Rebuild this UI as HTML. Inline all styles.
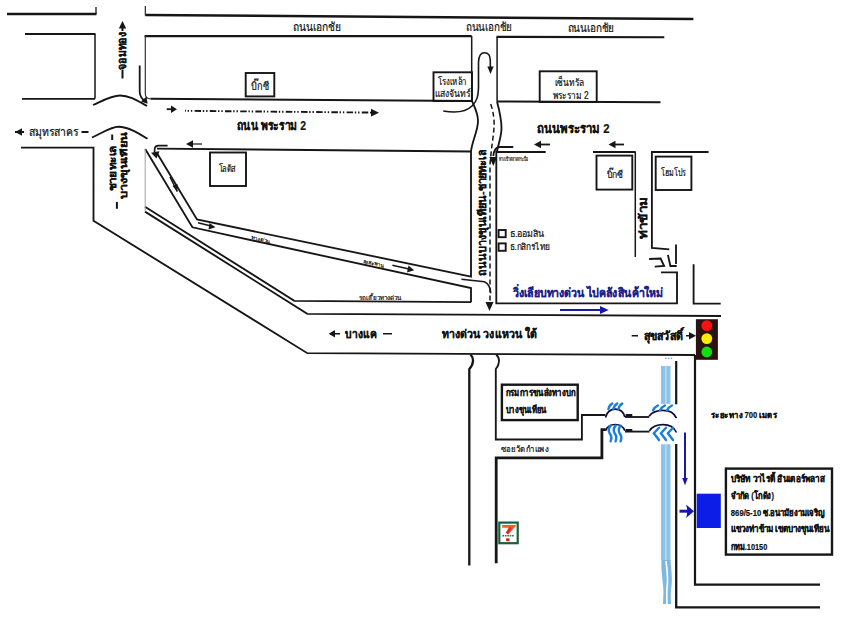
<!DOCTYPE html>
<html>
<head>
<meta charset="utf-8">
<title>map</title>
<style>
html,body{margin:0;padding:0;background:#fff;width:861px;height:630px;overflow:hidden;}
svg{display:block;position:absolute;left:0;top:0;}
text{font-family:"Liberation Sans",sans-serif;}
</style>
</head>
<body>
<svg width="861" height="630" viewBox="0 0 861 630">
<rect x="0" y="0" width="861" height="630" fill="#fff"/>
<g fill="none" stroke="#161616" stroke-width="1.85" stroke-linejoin="miter" stroke-linecap="butt">
  <path d="M7,14 H96.5" stroke-width="2.4"/>
  <path d="M96,14 V7" stroke-width="1.3"/>
  <path d="M145.3,15 L693.4,19" stroke-width="2.5"/>
  <path d="M145.3,15.5 V6" stroke-width="1.1"/>
  <path d="M25,34 H95.5 M95,98.8 H22" stroke-width="1.8"/>
  <path d="M95,34 V98.8" stroke-width="1.5"/>
  <path d="M144.6,36.1 H471.7" stroke-width="2.1"/>
  <path d="M145.3,36.1 V93.5 Q145.3,98.8 150.5,98.8" stroke-width="1.2" stroke="#333"/>
  <path d="M150.5,98.8 L472,101" stroke-width="2"/>
  <path d="M471.7,36.1 V101" stroke-width="1.5"/>
  <path d="M664.3,37.2 L496.5,36.9" stroke-width="2.1"/>
  <path d="M497.1,36.9 V101.5" stroke-width="1.5"/>
  <path d="M497.1,101.5 L660.5,102.2" stroke-width="2"/>
  <path d="M472,101 C474,106 478,113 478,121 C478,131 472,141 471,151.5"/>
  <path d="M497,101.5 C499,109 501.5,120 501.5,128 C501.5,137 498,145 497,151.5"/>
  <path d="M93,105 C104,100 112,95.5 120,95.5 C130,95.5 138,101 147,106"/>
  <path d="M92,137.5 C104,132 111,126.7 118.5,126.7 C128,126.7 138,133 147.5,138.8"/>
  <path d="M21,147.6 H93.5 V220.7 L307.3,353.2 L695,355"/>
  <path d="M145.2,149 L192.4,227.3 L471,288.1 V302.2"/>
  <path d="M156.3,152 L197,219.5 L471,276.6 V151.5 L157,148.6"/>
  <path d="M145,206.8 L294.3,300.8 L471,302.2"/>
  <path d="M145,211.6 L307.3,313.8 L721,316"/>
  <path d="M545.7,152 H496.3 V303.4 H677 V272.4 H661"/>
  <path d="M593,152 H635.7"/><path d="M635.3,152 V257" stroke-width="1.5"/>
  <path d="M708.6,152 H651.9 V247.9 L669.3,249.3"/>
  <path d="M667.9,254.9 L670.4,266 H676.7"/>
  <path d="M676,244.4 V264"/>
  <path d="M649.1,259 L660.6,258.5 L664.1,266 L654.7,266.7"/>
  <path d="M693.6,264.3 V303.6 H720.7"/>
  <path d="M695,355 V584.7 H820" stroke-width="2.2"/>
  <path d="M676.2,361 V404.3" stroke-width="2.2"/>
  <path d="M676.2,444 V607.3 H820" stroke-width="2.3"/>
  <path d="M470.5,354.5 C474,358 474,364 469.3,369 V565.4" stroke-width="2.3"/>
  <path d="M496.2,354.5 C500,358 500,364 495.8,369 V439.5 H581.9 V415 H605.5"/>
  <path d="M496.2,563.3 V457.8 H601.9 V429.7 H605.5" stroke-width="2.8"/>
  <path d="M625,417 H649.1"/>
  <path d="M625,431.6 H649.5"/>
</g>
<path d="M145.2,149 V211.6" stroke="#a0a0a0" stroke-width="1" fill="none"/>
<g fill="none" stroke="#0c0c3a" stroke-width="1.7">
  <path d="M605.5,417.4 C607,412 610.5,409.2 615.2,409.2 C620,409.2 623.5,412 624.9,417"/>
  <path d="M649.1,416.2 C652,412 657,410.3 663,410.3 C669.5,410.3 674.5,413.5 676.5,418.2"/>
  <path d="M605.5,430.8 C607,426.5 610.5,424.5 615.2,424.5 C620,424.5 623.5,427 624.9,430.8"/>
  <path d="M649.5,430.9 C652,426.5 657,424.6 663,424.6 C669.5,424.6 674.5,428 676.5,432.5"/>
</g>
<g fill="#161616">
  <rect x="625.6" y="414" width="6.7" height="3"/>
  <rect x="625.6" y="429" width="6.7" height="3"/>
</g>
<g fill="none" stroke="#1a7fd8" stroke-width="2.4" stroke-linecap="round">
  <path d="M608.4,409 Q609.5,405 612.2,403.6 M613.4,409 Q614.5,405 617.2,403.6 M618.4,409 Q619.5,405 622.2,403.6"/>
  <path d="M653.1,410.3 Q654.5,407 657.9,405.5 M660.1,410.3 Q661.5,407 664.9,405.5 M667.1,410.3 Q668.5,407 671.9,405.5"/>
  <path d="M610.7,425.6 Q607.5,429 609.5,433 Q612.5,437 610.6,441.3 M615.7,425.6 Q612.5,429 614.5,433 Q617.5,437 615.6,441.3 M620.7,425.6 Q617.5,429 619.5,433 Q622.5,437 620.6,441.3"/>
  <path d="M659,427.7 L653.9,433.3 L659,440 M666,427.7 L660.9,433.3 L666,440 M673,427.7 L667.9,433.3 L673,440"/>
</g>
<g fill="none" stroke="#161616" stroke-width="1.9">
  <rect x="245.7" y="73" width="28.6" height="23.4"/>
  <rect x="433.5" y="72.3" width="38.5" height="28.7"/>
  <rect x="539.7" y="71.3" width="57" height="30.7"/>
  <rect x="210" y="152.5" width="36" height="33.5"/>
  <rect x="596.5" y="155.6" width="35.8" height="34"/>
  <rect x="655.7" y="156.6" width="35.7" height="33.4"/>
  <rect x="498.6" y="230" width="7.1" height="7.2"/>
  <rect x="498.6" y="243.4" width="7.1" height="7.4"/>
  <rect x="501.9" y="384.7" width="75.8" height="35.4" stroke-width="2.4"/>
  <rect x="725.9" y="468.6" width="106.1" height="86" stroke-width="2.4"/>
</g>
<rect x="696.7" y="493.7" width="24.1" height="34.3" fill="#0b1de6"/>
<rect x="695.9" y="319.2" width="22" height="40.6" fill="#2b1212"/>
<circle cx="706.8" cy="325.6" r="5.4" fill="#ff1010"/>
<circle cx="706.8" cy="338.6" r="5.4" fill="#ffee00"/>
<circle cx="706.8" cy="352" r="5.4" fill="#10e010"/>
<rect x="661" y="365.9" width="9.5" height="38" fill="#8cc3e6"/>
<rect x="661" y="444.3" width="9.5" height="116" fill="#8cc3e6"/>
<path d="M661.5,560 H670.5 C671,570 673,578 671,590 C670.5,596 671,600 671,604 H663 C663,598 664,592 663,585 C662,575 661,568 661.5,560 Z" fill="#7db8e0"/>
<path d="M666,561 C667,570 668.5,578 667,588 C666.5,594 667,600 667,604" stroke="#fff" stroke-width="1.6" fill="none"/>
<path d="M665.8,366 V404 M665.8,444 V560" stroke="#b5daf2" stroke-width="1.6"/>
<path d="M665,358.4 H673" stroke="#6aa8dc" stroke-width="1.2" stroke-dasharray="1.6 1.2"/>
<g fill="none" stroke="#161616" stroke-width="1.8">
  <path d="M139.7,65.6 V92 Q140,98 146,102"/>
  <path d="M443.3,111 C455,113 466,112 472,106 C478,100 478,95 478.5,88 V62 Q479,52.8 484.5,52.8 Q490,52.8 490.3,60 V68" stroke-width="1.6"/>
  <path d="M167.6,145.6 H158.5 Q154.6,145.6 154.6,150 V152.5" stroke-width="1.7"/>
  <path d="M513.3,147 H499 Q494,148 493.3,156"/>
  <path d="M185,110.8 L372,112.6" stroke-dasharray="6.5 1.7 1.4 1.9 1.4 2.3" stroke-dashoffset="5.6" stroke-width="1.9"/>
  <path d="M166.7,109.2 H172"/>
  <path d="M191,144 H202" stroke-width="1.2"/>
  <path d="M539,144.5 H550"/>
  <path d="M613,144.5 H624"/>
  <path d="M490.7,104 C493.5,112 494.5,120 494,128 C493,140 491,150 490,165 V303" stroke-dasharray="5 3" stroke-width="1.5"/>
  <path d="M461.4,279.2 L484.4,281.8 Q490,284 490.8,293.3" stroke-width="1.5"/>
  <path d="M170,177 L177.3,191.6" stroke-width="1.5"/>
  <path d="M198,222.8 L211,226" stroke-width="1.5"/>
  <path d="M392.4,265.2 L409,269" stroke-width="1.5"/>
  <path d="M330,333.7 H340 M383,333.7 H392" stroke-width="1.6"/>
  <path d="M631.7,335.8 H638 M686,335.8 H691" stroke-width="1.6"/>
  <path d="M15,132 H24 M81.5,132 H88.5" stroke-width="1.8"/>
  <path d="M122.5,28 V31 M122.5,69.5 V78.5" stroke-width="2"/>
  <path d="M112.2,134.5 V140 M116.9,202 V208.8" stroke-width="2"/>
</g>
<g fill="#161616" stroke="none">
  <path d="M177,109.2 L171,105.5 V112.9 Z"/>
  <path d="M379,112.7 L371,108.8 V116.6 Z"/>
  <path d="M186,144 L193,140.3 V147.7 Z"/>
  <path d="M534,144.5 L541,140.8 V148.2 Z"/>
  <path d="M608.5,144.5 L615.5,140.8 V148.2 Z"/>
  <path d="M147.6,103.7 L141,101.5 L146.5,96.5 Z"/>
  <path d="M490.5,74 L487.3,66.5 H493.7 Z"/>
  <path d="M156.5,158.6 L151,152.8 L159.5,151.2 Z"/>
  <path d="M493.3,166 L489.3,157 H497.3 Z"/>
  <path d="M489.5,311 L485.5,302 H493.5 Z"/>
  <path d="M177.3,191.6 L172.5,186 L177.5,184 Z"/>
  <path d="M215.4,227.3 L208.5,229.5 L209.5,223 Z"/>
  <path d="M414.1,270.3 L407,272.5 L408.5,265.5 Z"/>
  <path d="M328.7,333.7 L335,330 V337.4 Z"/>
  <path d="M696,335.8 L689,332 V339.6 Z"/>
  <path d="M15,132 L22,128.3 V135.7 Z"/>
  <path d="M122.5,21 L118.8,28.5 H126.2 Z"/>
</g>
<g stroke="#1a1aa8" fill="none">
  <path d="M560,310 H602" stroke-width="2"/>
  <path d="M685,432.5 V479" stroke-width="2"/>
  <path d="M679.5,511.2 H688" stroke-width="3"/>
</g>
<g fill="#1414b4">
  <path d="M608.6,310 L600,306 V314 Z"/>
  <path d="M685,485.2 L682.2,478 H687.8 Z"/>
  <path d="M694,511.2 L686,504.5 Q688.5,511.2 686,518 Z"/>
</g>
<g>
  <rect x="499.3" y="522.6" width="18.4" height="20.6" fill="#fff" stroke="#17603a" stroke-width="2.2"/>
  <path d="M502.2,526.3 H513.6 L507.4,533.5" stroke="#e8602a" stroke-width="2.8" fill="none"/>
  <path d="M510.5,527.5 L506.8,533.5" stroke="#e02a20" stroke-width="2.6" fill="none"/>
  <path d="M502.5,535.8 H514" stroke="#2a6a4a" stroke-width="1.6" stroke-dasharray="1.6 0.8"/>
  <rect x="506.1" y="538.3" width="3.4" height="2.9" fill="#d02020"/>
</g>
<g fill="#111" stroke="#111" stroke-width="0.2">
<text x="293" y="31.4" style="font-size:12px;" textLength="47.5" lengthAdjust="spacingAndGlyphs">ถนนเอกชัย</text>
<text x="466" y="31.4" style="font-size:12px;" textLength="46.0" lengthAdjust="spacingAndGlyphs">ถนนเอกชัย</text>
<text x="567.6" y="32.0" style="font-size:12px;" textLength="46.4" lengthAdjust="spacingAndGlyphs">ถนนเอกชัย</text>
<text x="237" y="129.8" style="font-size:13px;font-weight:bold;" textLength="69.0" lengthAdjust="spacingAndGlyphs">ถนน พระราม 2</text>
<text x="537" y="133.3" style="font-size:13px;font-weight:bold;" textLength="72.5" lengthAdjust="spacingAndGlyphs">ถนนพระราม 2</text>
<text x="251" y="89.6" style="font-size:11px;" textLength="17.5" lengthAdjust="spacingAndGlyphs">บิ๊กซี</text>
<text x="438" y="84.6" style="font-size:10px;" textLength="29.0" lengthAdjust="spacingAndGlyphs">โรงเหล้า</text>
<text x="434.5" y="97.3" style="font-size:10px;" textLength="36.0" lengthAdjust="spacingAndGlyphs">แสงจันทร์</text>
<text x="554.8" y="85.8" style="font-size:10px;" textLength="29.2" lengthAdjust="spacingAndGlyphs">เซ็นทรัล</text>
<text x="552.5" y="99.3" style="font-size:10px;" textLength="36.0" lengthAdjust="spacingAndGlyphs">พระราม 2</text>
<text x="218.6" y="172.3" style="font-size:10px;" textLength="17.1" lengthAdjust="spacingAndGlyphs">โลตัส</text>
<text x="606.6" y="177.6" style="font-size:10px;" textLength="16.3" lengthAdjust="spacingAndGlyphs">บิ๊กซี</text>
<text x="661.4" y="176.2" style="font-size:10px;" textLength="24.3" lengthAdjust="spacingAndGlyphs">โฮมโปร</text>
<text x="29" y="136.0" style="font-size:12px;" textLength="49.5" lengthAdjust="spacingAndGlyphs">สมุทรสาคร</text>
<text x="510" y="236.5" style="font-size:9px;" textLength="34.0" lengthAdjust="spacingAndGlyphs">ธ.ออมสิน</text>
<text x="510" y="250.0" style="font-size:9px;" textLength="40.0" lengthAdjust="spacingAndGlyphs">ธ.กสิกรไทย</text>
<text x="512.9" y="297.0" style="font-size:12.5px;font-weight:bold;fill:#1c1f8c;stroke:#1c1f8c;" textLength="150.0" lengthAdjust="spacingAndGlyphs">วิ่งเลียบทางด่วน ไปคลังสินค้าใหม่</text>
<text x="345.3" y="337.7" style="font-size:12px;font-weight:bold;" textLength="31.7" lengthAdjust="spacingAndGlyphs">บางแค</text>
<text x="442" y="337.7" style="font-size:12px;font-weight:bold;" textLength="95.0" lengthAdjust="spacingAndGlyphs">ทางด่วน วงแหวน ใต้</text>
<text x="643.9" y="339.8" style="font-size:12px;font-weight:bold;" textLength="39.1" lengthAdjust="spacingAndGlyphs">สุขสวัสดิ์</text>
<text x="505.7" y="396.2" style="font-size:10px;font-weight:bold;" textLength="69.5" lengthAdjust="spacingAndGlyphs">กรมการขนส่งทางบก</text>
<text x="505.7" y="413.3" style="font-size:10px;font-weight:bold;" textLength="41.0" lengthAdjust="spacingAndGlyphs">บางขุนเทียน</text>
<text x="501" y="451.8" style="font-size:8.5px;" textLength="47.6" lengthAdjust="spacingAndGlyphs">ซอยวัดกำแพง</text>
<text x="710.9" y="417.6" style="font-size:8.5px;font-weight:bold;" textLength="66.5" lengthAdjust="spacingAndGlyphs">ระยะทาง 700 เมตร</text>
<text x="730.8" y="482.1" style="font-size:9.5px;font-weight:bold;" textLength="94.0" lengthAdjust="spacingAndGlyphs">บริษัท วาไรตี้ อินเตอร์พลาส</text>
<text x="730.8" y="498.8" style="font-size:9.5px;font-weight:bold;" textLength="43.2" lengthAdjust="spacingAndGlyphs">จำกัด (โกดัง)</text>
<text x="730.8" y="516.3" style="font-size:9.5px;font-weight:bold;" textLength="94.0" lengthAdjust="spacingAndGlyphs">869/5-10 ซ.อนามัยงามเจริญ</text>
<text x="730.8" y="532.1" style="font-size:9.5px;font-weight:bold;" textLength="98.4" lengthAdjust="spacingAndGlyphs">แขวงท่าข้าม เขตบางขุนเทียน</text>
<text x="730.8" y="549.6" style="font-size:9.5px;font-weight:bold;" textLength="36.5" lengthAdjust="spacingAndGlyphs">กทม.10150</text>
<text x="499" y="160.5" style="font-size:6px;" textLength="29.0" lengthAdjust="spacingAndGlyphs">ทางเข้าตลาดกระบือ</text>
<text x="359" y="300.0" style="font-size:6px;" textLength="42.6" lengthAdjust="spacingAndGlyphs">รถเลี้ยวทางด่วน</text>
<text x="0" y="3.6" style="font-size:11px;font-weight:bold;" textLength="37.3" lengthAdjust="spacingAndGlyphs" transform="translate(122.5,69.5) rotate(-90)">จอมทอง</text>
<text x="0" y="3.0" style="font-size:9px;font-weight:bold;" textLength="66.9" lengthAdjust="spacingAndGlyphs" transform="translate(124.3,199.3) rotate(-90)">บางขุนเทียน</text>
<text x="0" y="3.1" style="font-size:9.5px;font-weight:bold;" textLength="45.9" lengthAdjust="spacingAndGlyphs" transform="translate(113,191.2) rotate(-90)">ชายทะเล</text>
<text x="0" y="3.6" style="font-size:11px;font-weight:bold;" textLength="126.6" lengthAdjust="spacingAndGlyphs" transform="translate(482.3,275.6) rotate(-90)">ถนนบางขุนเทียน-ชายทะเล</text>
<text x="0" y="3.6" style="font-size:11px;font-weight:bold;" textLength="41.6" lengthAdjust="spacingAndGlyphs" transform="translate(643.7,238.6) rotate(-90)">ท่าข้าม</text>
<text x="0" y="1.8" style="font-size:5.5px;" textLength="20.0" lengthAdjust="spacingAndGlyphs" transform="translate(251,237.6) rotate(12)">ทางด่วน</text>
<text x="0" y="1.8" style="font-size:5.5px;" textLength="21.8" lengthAdjust="spacingAndGlyphs" transform="translate(363,261.3) rotate(12)">ลงสะพาน</text>
</g>
</svg>
</body>
</html>
